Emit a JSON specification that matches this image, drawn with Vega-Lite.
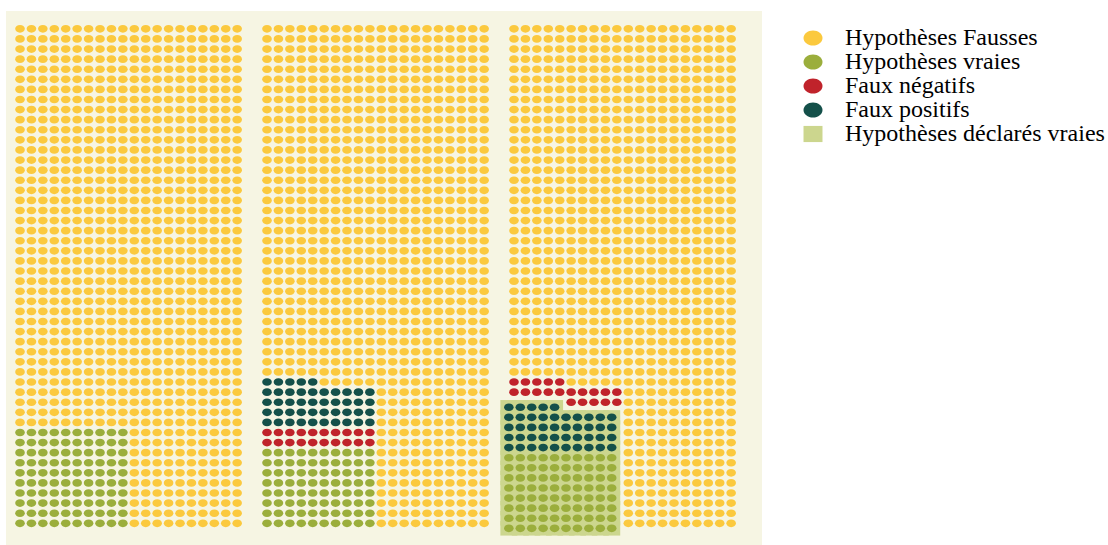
{
  "$schema": "https://vega.github.io/schema/vega-lite/v6.json",
  "padding": {"left": 6, "top": 11, "right": 0, "bottom": 0},
  "background": "white",
  "data": {"values": [
    {"p": 1, "k": "Hypothèses vraies", "r": [0,1,2,3,4,5,6,7,8,9], "c": [0,1,2,3,4,5,6,7,8,9]},
    {"p": 1, "k": "Hypothèses Fausses", "r": [0,1,2,3,4,5,6,7,8,9], "c": [10,11,12,13,14,15,16,17,18,19]},
    {"p": 1, "k": "Hypothèses Fausses", "r": [10,11,12,13,14,15,16,17,18,19,20,21,22,23,24,25,26,27,28,29,30,31,32,33,34,35,36,37,38,39,40,41,42,43,44,45,46,47,48,49], "c": [0,1,2,3,4,5,6,7,8,9,10,11,12,13,14,15,16,17,18,19]},
    {"p": 2, "k": "Hypothèses vraies", "r": [0,1,2,3,4,5,6,7], "c": [0,1,2,3,4,5,6,7,8,9]},
    {"p": 2, "k": "Faux négatifs", "r": [8,9], "c": [0,1,2,3,4,5,6,7,8,9]},
    {"p": 2, "k": "Faux positifs", "r": [10,11,12,13], "c": [0,1,2,3,4,5,6,7,8,9]},
    {"p": 2, "k": "Faux positifs", "r": [14], "c": [0,1,2,3,4]},
    {"p": 2, "k": "Hypothèses Fausses", "r": [0,1,2,3,4,5,6,7,8,9,10,11,12,13], "c": [10,11,12,13,14,15,16,17,18,19]},
    {"p": 2, "k": "Hypothèses Fausses", "r": [14], "c": [5,6,7,8,9,10,11,12,13,14,15,16,17,18,19]},
    {"p": 2, "k": "Hypothèses Fausses", "r": [15,16,17,18,19,20,21,22,23,24,25,26,27,28,29,30,31,32,33,34,35,36,37,38,39,40,41,42,43,44,45,46,47,48,49], "c": [0,1,2,3,4,5,6,7,8,9,10,11,12,13,14,15,16,17,18,19]},
    {"p": 3, "k": "Hypothèses vraies", "q": "Hypothèses déclarés vraies", "r": [-0.5,0.5,1.5,2.5,3.5,4.5,5.5,6.5], "c": [-0.45,0.55,1.55,2.55,3.55,4.55,5.55,6.55,7.55,8.55]},
    {"p": 3, "k": "Faux positifs", "q": "Hypothèses déclarés vraies", "r": [7.5,8.5,9.5,10.5], "c": [-0.45,0.55,1.55,2.55,3.55,4.55,5.55,6.55,7.55,8.55]},
    {"p": 3, "k": "Faux positifs", "q": "Hypothèses déclarés vraies", "r": [11.5], "c": [-0.45,0.55,1.55,2.55,3.55]},
    {"p": 3, "k": "Faux négatifs", "r": [12], "c": [5,6,7,8,9]},
    {"p": 3, "k": "Faux négatifs", "r": [13], "c": [0,1,2,3,4,5,6,7,8,9]},
    {"p": 3, "k": "Faux négatifs", "r": [14], "c": [0,1,2,3,4]},
    {"p": 3, "k": "Hypothèses Fausses", "r": [0,1,2,3,4,5,6,7,8,9,10,11,12,13], "c": [10,11,12,13,14,15,16,17,18,19]},
    {"p": 3, "k": "Hypothèses Fausses", "r": [14], "c": [5,6,7,8,9,10,11,12,13,14,15,16,17,18,19]},
    {"p": 3, "k": "Hypothèses Fausses", "r": [15,16,17,18,19,20,21,22,23,24,25,26,27,28,29,30,31,32,33,34,35,36,37,38,39,40,41,42,43,44,45,46,47,48,49], "c": [0,1,2,3,4,5,6,7,8,9,10,11,12,13,14,15,16,17,18,19]}
  ]},
  "transform": [{"flatten": ["r"]}, {"flatten": ["c"]}],
  "spacing": 0,
  "hconcat": [
    {
      "width": 247, "height": 534,
      "transform": [{"filter": "datum.p == 1"}],
      "mark": {"type": "point", "filled": true, "size": 92, "opacity": 1, "strokeWidth": 0},
      "encoding": {
        "x": {"field": "c", "type": "quantitative", "scale": {"domain": [-1.225, 20.385], "nice": false, "zero": false}, "axis": null},
        "y": {"field": "r", "type": "quantitative", "scale": {"domain": [-2.15, 50.77], "nice": false, "zero": false}, "axis": null},
        "color": {"field": "k", "type": "nominal", "scale": {"domain": ["Hypothèses Fausses", "Hypothèses vraies", "Faux négatifs", "Faux positifs", "Hypothèses déclarés vraies"], "range": ["#fbc93e", "#9bae3c", "#c0232b", "#14504a", "#ccd68e"]}, "legend": {"title": null}},
        "shape": {"field": "k", "type": "nominal", "scale": {"domain": ["Hypothèses Fausses", "Hypothèses vraies", "Faux négatifs", "Faux positifs", "Hypothèses déclarés vraies"], "range": ["M-1,0A1,0.8,0,1,1,1,0A1,0.8,0,1,1,-1,0Z", "M-1,0A1,0.8,0,1,1,1,0A1,0.8,0,1,1,-1,0Z", "M-1,0A1,0.8,0,1,1,1,0A1,0.8,0,1,1,-1,0Z", "M-1,0A1,0.8,0,1,1,1,0A1,0.8,0,1,1,-1,0Z", "M-1,-0.85H1V0.85H-1Z"]}, "legend": {"title": null}}
      }
    },
    {
      "width": 247, "height": 534,
      "transform": [{"filter": "datum.p == 2"}],
      "mark": {"type": "point", "filled": true, "size": 92, "opacity": 1, "strokeWidth": 0},
      "encoding": {
        "x": {"field": "c", "type": "quantitative", "scale": {"domain": [-1.225, 20.385], "nice": false, "zero": false}, "axis": null},
        "y": {"field": "r", "type": "quantitative", "scale": {"domain": [-2.15, 50.77], "nice": false, "zero": false}, "axis": null},
        "color": {"field": "k", "type": "nominal", "scale": {"domain": ["Hypothèses Fausses", "Hypothèses vraies", "Faux négatifs", "Faux positifs", "Hypothèses déclarés vraies"], "range": ["#fbc93e", "#9bae3c", "#c0232b", "#14504a", "#ccd68e"]}, "legend": {"title": null}},
        "shape": {"field": "k", "type": "nominal", "scale": {"domain": ["Hypothèses Fausses", "Hypothèses vraies", "Faux négatifs", "Faux positifs", "Hypothèses déclarés vraies"], "range": ["M-1,0A1,0.8,0,1,1,1,0A1,0.8,0,1,1,-1,0Z", "M-1,0A1,0.8,0,1,1,1,0A1,0.8,0,1,1,-1,0Z", "M-1,0A1,0.8,0,1,1,1,0A1,0.8,0,1,1,-1,0Z", "M-1,0A1,0.8,0,1,1,1,0A1,0.8,0,1,1,-1,0Z", "M-1,-0.85H1V0.85H-1Z"]}, "legend": {"title": null}}
      }
    },
    {
      "width": 262, "height": 534,
      "transform": [{"filter": "datum.p == 3"}],
      "encoding": {
        "x": {"field": "c", "type": "quantitative", "scale": {"domain": [-1.225, 21.7], "nice": false, "zero": false}, "axis": null},
        "y": {"field": "r", "type": "quantitative", "scale": {"domain": [-2.15, 50.77], "nice": false, "zero": false}, "axis": null}
      },
      "layer": [
        {
          "transform": [{"filter": "isValid(datum.q)"}],
          "mark": {"type": "point", "filled": true, "size": 289, "opacity": 1, "strokeWidth": 0, "shape": "M-1,-0.82H1V0.82H-1Z"},
          "encoding": {
            "color": {"field": "q", "type": "nominal", "scale": {"domain": ["Hypothèses Fausses", "Hypothèses vraies", "Faux négatifs", "Faux positifs", "Hypothèses déclarés vraies"], "range": ["#fbc93e", "#9bae3c", "#c0232b", "#14504a", "#ccd68e"]}, "legend": {"title": null}},
            "shape": {"field": "q", "type": "nominal", "scale": {"domain": ["Hypothèses Fausses", "Hypothèses vraies", "Faux négatifs", "Faux positifs", "Hypothèses déclarés vraies"], "range": ["M-1,0A1,0.8,0,1,1,1,0A1,0.8,0,1,1,-1,0Z", "M-1,0A1,0.8,0,1,1,1,0A1,0.8,0,1,1,-1,0Z", "M-1,0A1,0.8,0,1,1,1,0A1,0.8,0,1,1,-1,0Z", "M-1,0A1,0.8,0,1,1,1,0A1,0.8,0,1,1,-1,0Z", "M-1,-0.85H1V0.85H-1Z"]}, "legend": {"title": null}}
          }
        },
        {
          "mark": {"type": "point", "filled": true, "size": 92, "opacity": 1, "strokeWidth": 0},
          "encoding": {
            "color": {"field": "k", "type": "nominal", "scale": {"domain": ["Hypothèses Fausses", "Hypothèses vraies", "Faux négatifs", "Faux positifs", "Hypothèses déclarés vraies"], "range": ["#fbc93e", "#9bae3c", "#c0232b", "#14504a", "#ccd68e"]}, "legend": {"title": null}},
            "shape": {"field": "k", "type": "nominal", "scale": {"domain": ["Hypothèses Fausses", "Hypothèses vraies", "Faux négatifs", "Faux positifs", "Hypothèses déclarés vraies"], "range": ["M-1,0A1,0.8,0,1,1,1,0A1,0.8,0,1,1,-1,0Z", "M-1,0A1,0.8,0,1,1,1,0A1,0.8,0,1,1,-1,0Z", "M-1,0A1,0.8,0,1,1,1,0A1,0.8,0,1,1,-1,0Z", "M-1,0A1,0.8,0,1,1,1,0A1,0.8,0,1,1,-1,0Z", "M-1,-0.85H1V0.85H-1Z"]}, "legend": {"title": null}}
          }
        }
      ]
    }
  ],
  "resolve": {"scale": {"color": "shared", "shape": "shared"}},
  "config": {
    "view": {"fill": "#f6f5e3", "stroke": null},
    "concat": {"spacing": 0},
    "legend": {
      "orient": "right",
      "offset": 24,
      "padding": 15,
      "symbolSize": 361,
      "symbolStrokeWidth": 0,
      "symbolOpacity": 1,
      "labelFont": "Liberation Serif",
      "labelFontSize": 24,
      "labelColor": "#000000",
      "labelOffset": 20,
      "labelLimit": 400,
      "rowPadding": -2
    }
  }
}
